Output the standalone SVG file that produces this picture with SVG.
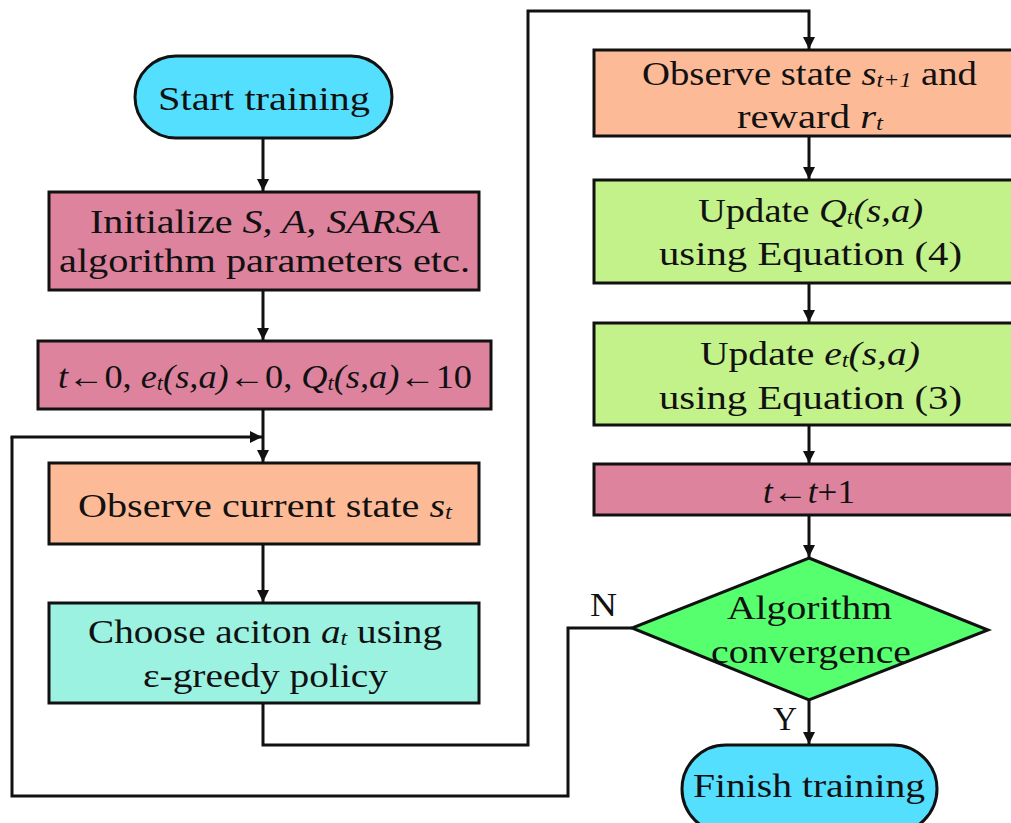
<svg xmlns="http://www.w3.org/2000/svg" width="1011" height="823" viewBox="0 0 1011 823">
<defs>
<style>
.b{stroke:#111;stroke-width:3}
.t{font-family:"Liberation Serif","Times New Roman",serif;font-size:34px;fill:#111}
.i{font-style:italic}
.s{font-size:21px;font-style:italic}
.c{fill:none;stroke:#111;stroke-width:3}
.pink{fill:#DE839E}.orange{fill:#FDBA97}.teal{fill:#9BF2E1}.lg{fill:#C3F28B}.cyan{fill:#55DFFF}.dg{fill:#55FF6E}
</style>
<marker id="ah" markerUnits="userSpaceOnUse" markerWidth="14" markerHeight="12" refX="12" refY="6" orient="auto"><path d="M0,0 L12,6 L0,12 z" fill="#111"/></marker>
</defs>
<rect width="1011" height="823" fill="#fff"/>
<g id="connectors">
<line class="c" x1="263" y1="138" x2="263" y2="191" marker-end="url(#ah)"/>
<line class="c" x1="263" y1="290" x2="263" y2="340" marker-end="url(#ah)"/>
<line class="c" x1="263" y1="409" x2="263" y2="462" marker-end="url(#ah)"/>
<polyline class="c" points="12,437 12,796 568,796 568,628 632,628"/>
<line class="c" x1="10.5" y1="437" x2="262" y2="437" marker-end="url(#ah)"/>
<line class="c" x1="263" y1="544" x2="263" y2="602" marker-end="url(#ah)"/>
<polyline class="c" points="263,703 263,745 528,745 528,11 809,11 809,49" marker-end="url(#ah)"/>
<line class="c" x1="809" y1="136" x2="809" y2="179" marker-end="url(#ah)"/>
<line class="c" x1="809" y1="283" x2="809" y2="322" marker-end="url(#ah)"/>
<line class="c" x1="809" y1="425" x2="809" y2="463" marker-end="url(#ah)"/>
<line class="c" x1="809" y1="515" x2="809" y2="557" marker-end="url(#ah)"/>
<line class="c" x1="809" y1="700" x2="809" y2="744" marker-end="url(#ah)"/>
<text class="t" x="590" y="616" textLength="27" lengthAdjust="spacingAndGlyphs">N</text>
<text class="t" x="773" y="730" textLength="24" lengthAdjust="spacingAndGlyphs">Y</text>
</g>
<g id="start">
<rect class="b cyan" x="135" y="56" width="257" height="82" rx="41"/>
<text class="t" x="158" y="110" textLength="212" lengthAdjust="spacingAndGlyphs">Start training</text>
</g>
<g id="init">
<rect class="b pink" x="49" y="192" width="430" height="98"/>
<text class="t" x="90" y="233" textLength="350" lengthAdjust="spacingAndGlyphs">Initialize <tspan class="i">S, A, SARSA</tspan></text>
<text class="t" x="59" y="272" textLength="411" lengthAdjust="spacingAndGlyphs">algorithm parameters etc.</text>
</g>
<g id="zero">
<rect class="b pink" x="38" y="341" width="453" height="68"/>
<text class="t" x="58" y="388" textLength="414" lengthAdjust="spacingAndGlyphs"><tspan class="i">t</tspan>←0, <tspan class="i">e</tspan><tspan class="s" dy="2">t</tspan><tspan class="i" dy="-2">(s,a)</tspan>←0, <tspan class="i">Q</tspan><tspan class="s" dy="2">t</tspan><tspan class="i" dy="-2">(s,a)</tspan>←10</text>
</g>
<g id="observe">
<rect class="b orange" x="49" y="463" width="430" height="81"/>
<text class="t" x="78" y="517" textLength="374" lengthAdjust="spacingAndGlyphs">Observe current state <tspan class="i">s</tspan><tspan class="s" dy="2">t</tspan></text>
</g>
<g id="choose">
<rect class="b teal" x="49" y="603" width="430" height="100"/>
<text class="t" x="88" y="643" textLength="354" lengthAdjust="spacingAndGlyphs">Choose aciton <tspan class="i">a</tspan><tspan class="s" dy="2">t</tspan><tspan dy="-2"> using</tspan></text>
<text class="t" x="143" y="687" textLength="245" lengthAdjust="spacingAndGlyphs">ε-greedy policy</text>
</g>
<g id="observe2">
<rect class="b orange" x="594" y="50" width="430" height="86"/>
<text class="t" x="642" y="85" textLength="335" lengthAdjust="spacingAndGlyphs">Observe state <tspan class="i">s</tspan><tspan class="s" dy="2">t+1</tspan><tspan dy="-2"> and</tspan></text>
<text class="t" x="737" y="128" textLength="146" lengthAdjust="spacingAndGlyphs">reward <tspan class="i">r</tspan><tspan class="s" dy="2">t</tspan></text>
</g>
<g id="updq">
<rect class="b lg" x="594" y="180" width="430" height="103"/>
<text class="t" x="698" y="222" textLength="225" lengthAdjust="spacingAndGlyphs">Update <tspan class="i">Q</tspan><tspan class="s" dy="2">t</tspan><tspan class="i" dy="-2">(s,a)</tspan></text>
<text class="t" x="659" y="265" textLength="303" lengthAdjust="spacingAndGlyphs">using  Equation (4)</text>
</g>
<g id="upde">
<rect class="b lg" x="594" y="323" width="430" height="102"/>
<text class="t" x="700" y="365" textLength="220" lengthAdjust="spacingAndGlyphs">Update <tspan class="i">e</tspan><tspan class="s" dy="2">t</tspan><tspan class="i" dy="-2">(s,a)</tspan></text>
<text class="t" x="659" y="409" textLength="303" lengthAdjust="spacingAndGlyphs">using  Equation (3)</text>
</g>
<g id="inc">
<rect class="b pink" x="594" y="464" width="430" height="51"/>
<text class="t" x="763" y="503" textLength="92" lengthAdjust="spacingAndGlyphs"><tspan class="i">t</tspan>←<tspan class="i">t</tspan>+1</text>
</g>
<g id="decision">
<polygon class="b dg" points="809,558 988,630 809,700 632,628"/>
<text class="t" x="727" y="619" textLength="165" lengthAdjust="spacingAndGlyphs">Algorithm</text>
<text class="t" x="711" y="663" textLength="200" lengthAdjust="spacingAndGlyphs">convergence</text>
</g>
<g id="finish">
<rect class="b cyan" x="682" y="745" width="255" height="88" rx="44"/>
<text class="t" x="693" y="797" textLength="232" lengthAdjust="spacingAndGlyphs">Finish training</text>
</g>
</svg>
